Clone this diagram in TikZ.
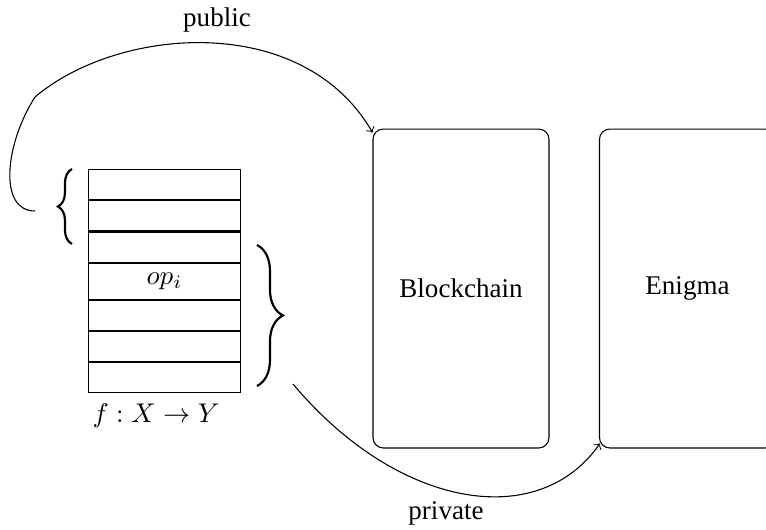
\documentclass[tikz,border=0pt]{standalone}
\usepackage{fontspec}
\setmainfont{Liberation Serif}
\usetikzlibrary{decorations.pathreplacing}
\begin{document}
\begin{tikzpicture}[x=0.37pt,y=0.37pt,
  cell/.style={draw, minimum width=56.2pt, minimum height=11.15pt, inner sep=0pt, anchor=north},
  chainbox/.style={draw, rounded corners=3.8pt, minimum width=65.1pt, minimum height=118pt},
  brc/.style={decorate, decoration={brace, amplitude=#1}, line width=0.8pt},
  conn/.style={->}]
\useasboundingbox (0,0) rectangle (766,529);
% stack of operations
\node[cell] (r1) at (164.5,360) {};
\node[cell] (r2) at (r1.south) {};
\node[cell] (r3) at (r2.south) {};
\node[cell, minimum height=13.3pt] (r4) at (r3.south) {$op_i$};
\node[cell] (r5) at (r4.south) {};
\node[cell] (r6) at (r5.south) {};
\node[cell] (r7) at (r6.south) {};
\node (f) at (156,113) {$f: X \to Y$};
% braces
\draw[brc=5.2pt] (72,285) -- (72,360);
\draw[brc=9.6pt] (257,284) -- (257,143);
% boxes
\node[chainbox] (bc) at (461,240.5) {Blockchain};
\node[chainbox] (en) at (687.5,240.5) {Enigma};
% labels
\node (pub) at (217,509) {public};
\node (priv) at (446,16) {private};
% connectors
\coordinate (ps) at (35,318);
\coordinate (pk) at (35,432);
\coordinate (pe) at ([yshift=-4*0.37pt]bc.north west);
\coordinate (qs) at (293,145);
\coordinate (qe) at ([xshift=0.37pt,yshift=5*0.37pt]en.south west);
\draw[conn] (ps) .. controls (-2,318) and (5,385) .. (pk)
  .. controls (119,503) and (303,517) .. (pe);
\draw[conn] (qs) .. controls (396,22) and (537,-4) .. (qe);
\end{tikzpicture}
\end{document}
